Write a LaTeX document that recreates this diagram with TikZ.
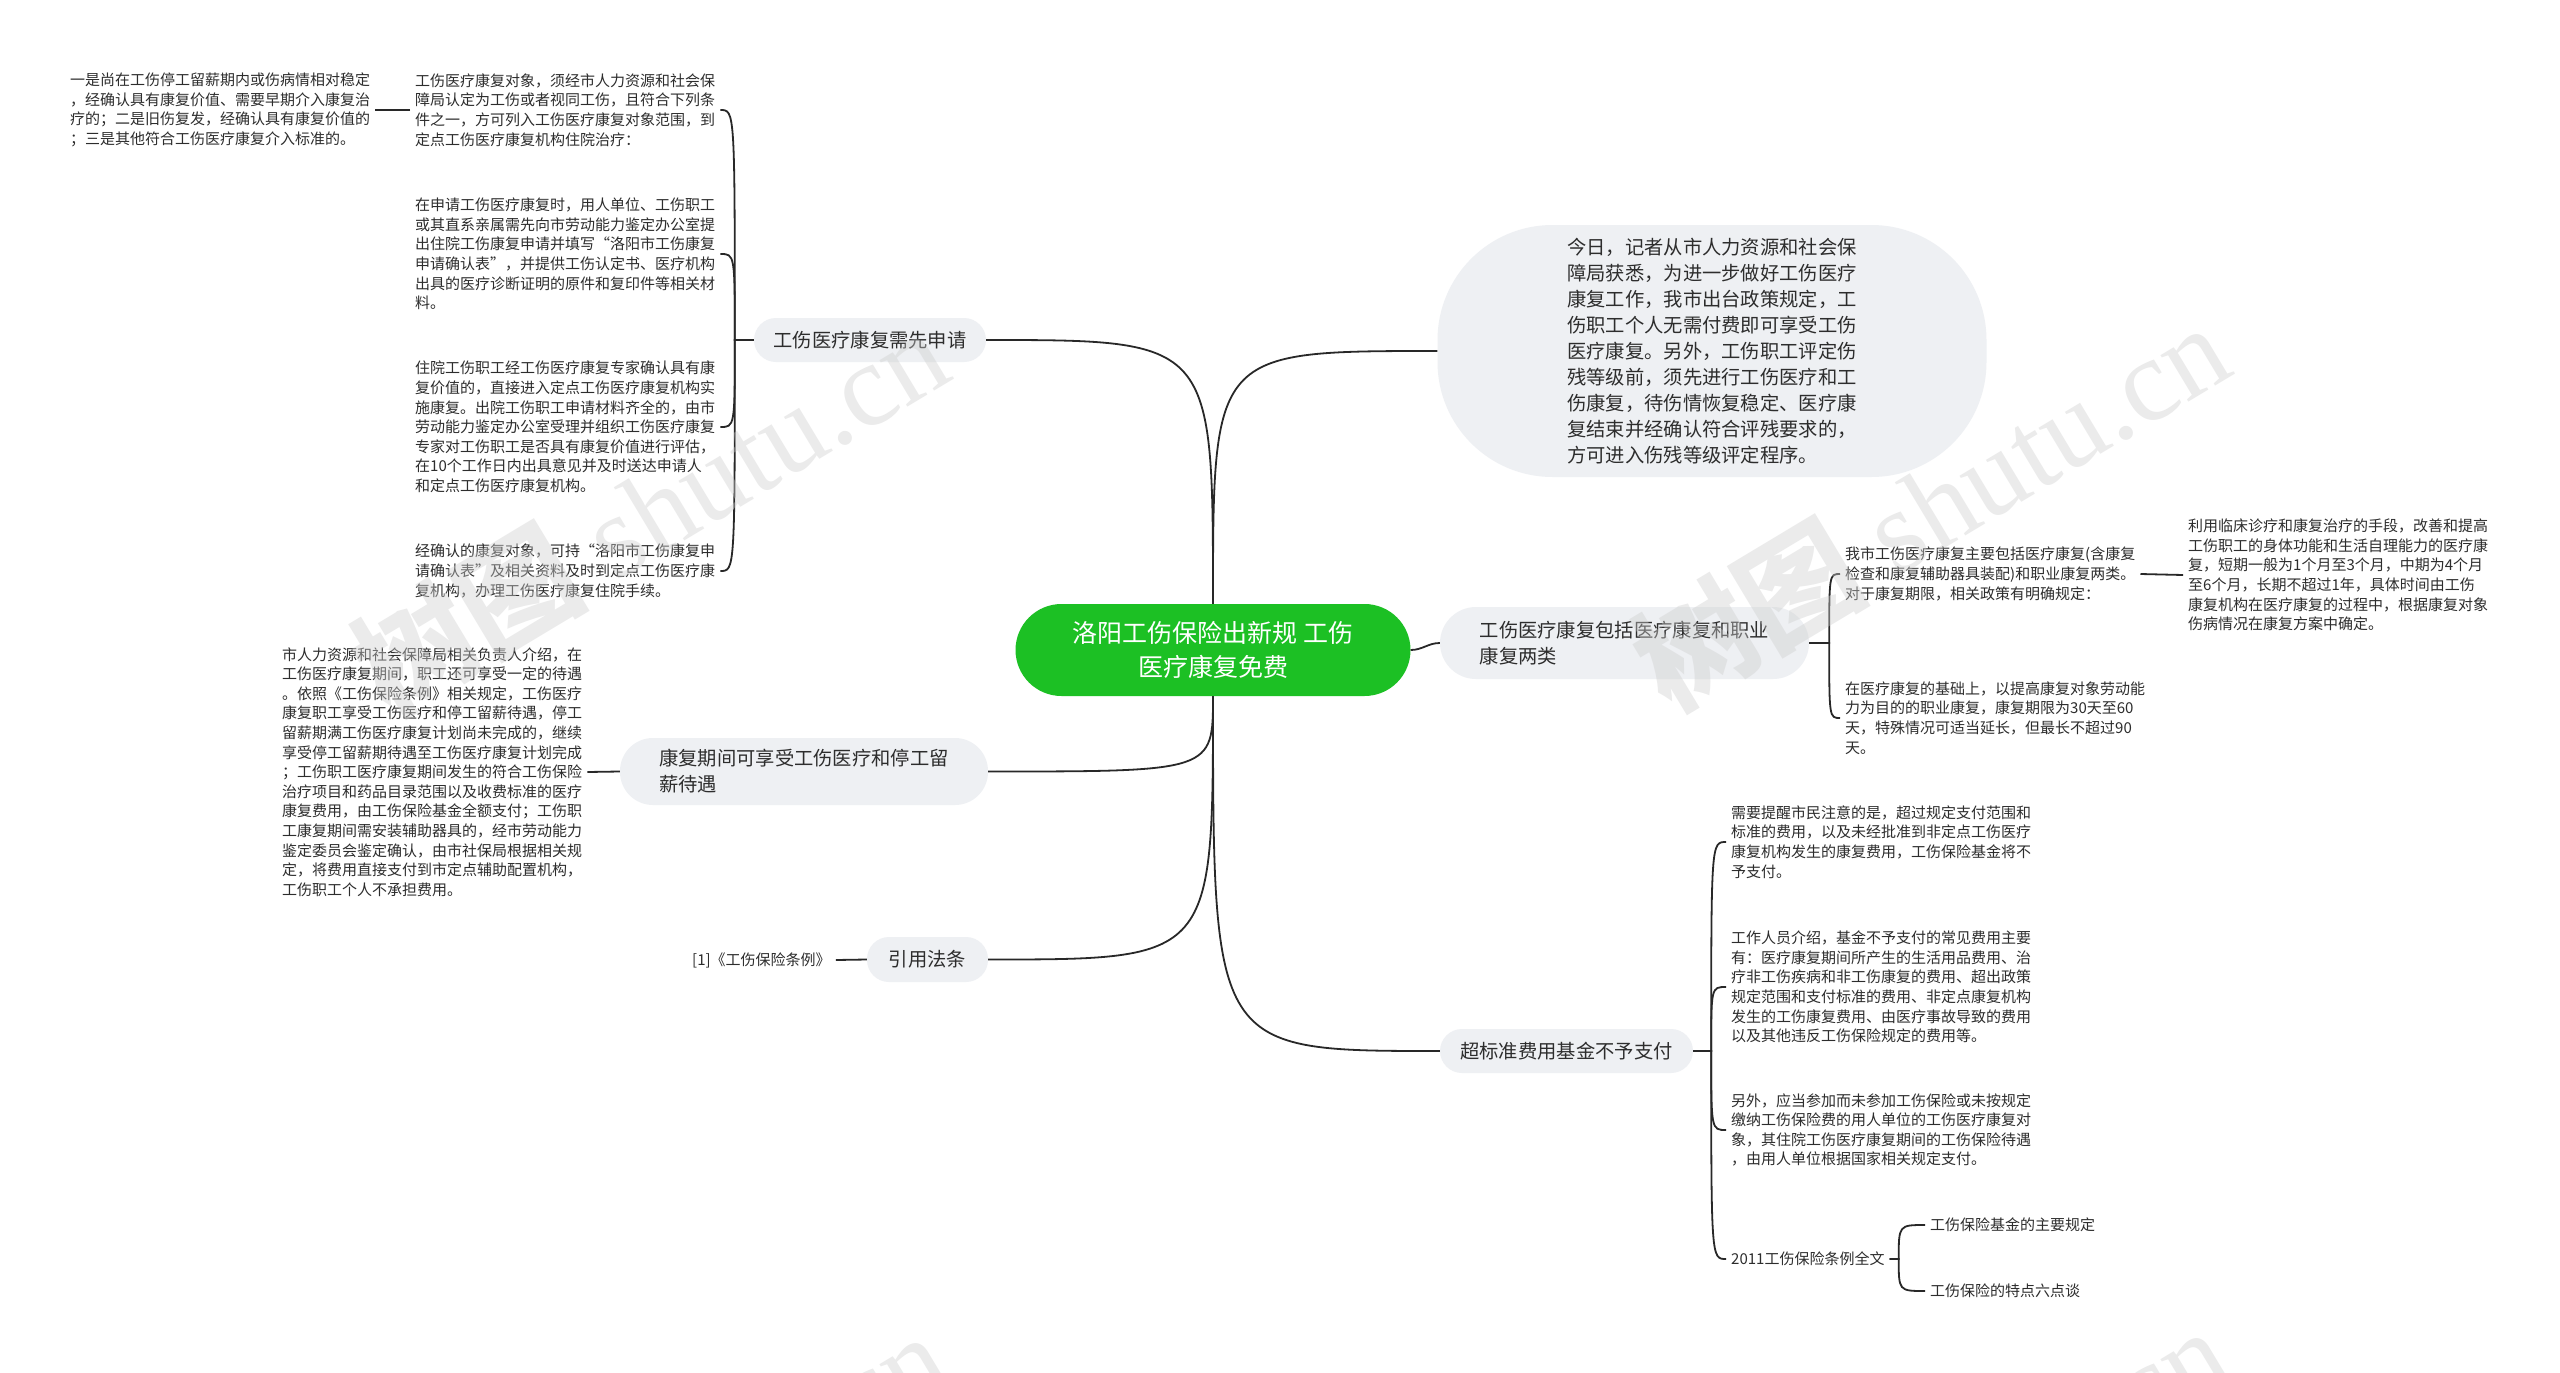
\documentclass[tikz,border=0pt]{standalone}
\usepackage{fontspec}
\setmainfont{Noto Sans CJK SC}
\newfontfamily\wmserif{Liberation Serif}
\usetikzlibrary{calc}
\definecolor{rootgreen}{RGB}{28,192,36}
\definecolor{boxgray}{RGB}{238,240,243}
\definecolor{ink}{RGB}{45,45,45}
\definecolor{linec}{RGB}{40,40,40}
\definecolor{wmc}{RGB}{205,205,205}
\tikzset{
  rootnode/.style={fill=rootgreen, text=white, rounded corners=46pt, minimum width=395pt, minimum height=92pt, align=center, font=\fontsize{25}{34}\selectfont, inner sep=0pt},
  mainbox/.style={fill=boxgray, text=ink, align=left, font=\fontsize{19.3}{26}\selectfont, inner sep=0pt},
  leaf/.style={text=ink, align=left, font=\fontsize{15}{19.6}\selectfont, inner sep=5pt, anchor=west},
  conn/.style={draw=linec, line width=1.8pt},
  wm/.style={text=wmc, opacity=0.4, rotate=31, font=\fontsize{118}{118}\selectfont, inner sep=0pt}
}
\begin{document}
\begin{tikzpicture}[x=1pt,y=-1pt]
\useasboundingbox (0,0) rectangle (2560,1373);
\fill[white] (0,0) rectangle (2560,1373);

% root
\node[rootnode] (root) at (1213,650) {洛阳工伤保险出新规 工伤\\医疗康复免费};

% main branches
\node[mainbox, minimum width=232pt, minimum height=44pt, rounded corners=22pt] (b1) at (870,340) {工伤医疗康复需先申请};
\node[mainbox, minimum width=549pt, minimum height=252pt, rounded corners=115pt] (bub) at (1712,351) {今日，记者从市人力资源和社会保\\障局获悉，为进一步做好工伤医疗\\康复工作，我市出台政策规定，工\\伤职工个人无需付费即可享受工伤\\医疗康复。另外，工伤职工评定伤\\残等级前，须先进行工伤医疗和工\\伤康复，待伤情恢复稳定、医疗康\\复结束并经确认符合评残要求的，\\方可进入伤残等级评定程序。};
\node[mainbox, minimum width=369pt, minimum height=72pt, rounded corners=36pt] (b5) at (1624.5,643) {工伤医疗康复包括医疗康复和职业\\康复两类};
\node[mainbox, minimum width=368pt, minimum height=67pt, rounded corners=33pt] (b2) at (804,771.5) {康复期间可享受工伤医疗和停工留\\薪待遇};
\node[mainbox, minimum width=121pt, minimum height=45pt, rounded corners=22pt] (b3) at (927.5,959.5) {引用法条};
\node[mainbox, minimum width=253pt, minimum height=44pt, rounded corners=22pt] (b6) at (1566.5,1051) {超标准费用基金不予支付};

% leaves of b1
\node[leaf] (la) at (410,110) {工伤医疗康复对象，须经市人力资源和社会保\\障局认定为工伤或者视同工伤，且符合下列条\\件之一，方可列入工伤医疗康复对象范围，到\\定点工伤医疗康复机构住院治疗：};
\node[leaf] (la0) at (65,110) {一是尚在工伤停工留薪期内或伤病情相对稳定\\，经确认具有康复价值、需要早期介入康复治\\疗的；二是旧伤复发，经确认具有康复价值的\\；三是其他符合工伤医疗康复介入标准的。};
\node[leaf] (lb) at (410,254) {在申请工伤医疗康复时，用人单位、工伤职工\\或其直系亲属需先向市劳动能力鉴定办公室提\\出住院工伤康复申请并填写“洛阳市工伤康复\\申请确认表”，并提供工伤认定书、医疗机构\\出具的医疗诊断证明的原件和复印件等相关材\\料。};
\node[leaf] (lc) at (410,427) {住院工伤职工经工伤医疗康复专家确认具有康\\复价值的，直接进入定点工伤医疗康复机构实\\施康复。出院工伤职工申请材料齐全的，由市\\劳动能力鉴定办公室受理并组织工伤医疗康复\\专家对工伤职工是否具有康复价值进行评估，\\在10个工作日内出具意见并及时送达申请人\\和定点工伤医疗康复机构。};
\node[leaf] (ld) at (410,571) {经确认的康复对象，可持“洛阳市工伤康复申\\请确认表”及相关资料及时到定点工伤医疗康\\复机构，办理工伤医疗康复住院手续。};

% leaf of b2
\node[leaf] (l2) at (277,772) {市人力资源和社会保障局相关负责人介绍，在\\工伤医疗康复期间，职工还可享受一定的待遇\\。依照《工伤保险条例》相关规定，工伤医疗\\康复职工享受工伤医疗和停工留薪待遇，停工\\留薪期满工伤医疗康复计划尚未完成的，继续\\享受停工留薪期待遇至工伤医疗康复计划完成\\；工伤职工医疗康复期间发生的符合工伤保险\\治疗项目和药品目录范围以及收费标准的医疗\\康复费用，由工伤保险基金全额支付；工伤职\\工康复期间需安装辅助器具的，经市劳动能力\\鉴定委员会鉴定确认，由市社保局根据相关规\\定，将费用直接支付到市定点辅助配置机构，\\工伤职工个人不承担费用。};

% leaf of b3
\node[leaf] (l3) at (687,960) {[1]《工伤保险条例》};

% leaves of b5
\node[leaf] (r1) at (1840,574) {我市工伤医疗康复主要包括医疗康复(含康复\\检查和康复辅助器具装配)和职业康复两类。\\对于康复期限，相关政策有明确规定：};
\node[leaf] (r1c) at (2183,575) {利用临床诊疗和康复治疗的手段，改善和提高\\工伤职工的身体功能和生活自理能力的医疗康\\复，短期一般为1个月至3个月，中期为4个月\\至6个月，长期不超过1年，具体时间由工伤\\康复机构在医疗康复的过程中，根据康复对象\\伤病情况在康复方案中确定。};
\node[leaf] (r2) at (1840,718) {在医疗康复的基础上，以提高康复对象劳动能\\力为目的的职业康复，康复期限为30天至60\\天，特殊情况可适当延长，但最长不超过90\\天。};

% leaves of b6
\node[leaf] (s1) at (1726,842) {需要提醒市民注意的是，超过规定支付范围和\\标准的费用，以及未经批准到非定点工伤医疗\\康复机构发生的康复费用，工伤保险基金将不\\予支付。};
\node[leaf] (s2) at (1726,987) {工作人员介绍，基金不予支付的常见费用主要\\有：医疗康复期间所产生的生活用品费用、治\\疗非工伤疾病和非工伤康复的费用、超出政策\\规定范围和支付标准的费用、非定点康复机构\\发生的工伤康复费用、由医疗事故导致的费用\\以及其他违反工伤保险规定的费用等。};
\node[leaf] (s3) at (1726,1130) {另外，应当参加而未参加工伤保险或未按规定\\缴纳工伤保险费的用人单位的工伤医疗康复对\\象，其住院工伤医疗康复期间的工伤保险待遇\\，由用人单位根据国家相关规定支付。};
\node[leaf] (s4) at (1726,1259) {2011工伤保险条例全文};
\node[leaf] (t1) at (1925,1225) {工伤保险基金的主要规定};
\node[leaf] (t2) at (1925,1291) {工伤保险的特点六点谈};

% spine coordinates
\coordinate (sp1) at ($(b1.west)+(-19,0)$);
\coordinate (sp5) at ($(b5.east)+(20,0)$);
\coordinate (sp6) at ($(b6.east)+(18,0)$);
\coordinate (sp4) at ($(s4.east)+(9,0)$);

% root connectors
\draw[conn] (root.north) .. controls (root.north |- b1.east) .. (b1.east);
\draw[conn] (root.north) .. controls (root.north |- bub.west) .. (bub.west);
\draw[conn] (root.east) to[out=0,in=180] (b5.west);
\draw[conn] (root.south) .. controls (root.south |- b2.east) .. (b2.east);
\draw[conn] (root.south) .. controls (root.south |- b3.east) .. (b3.east);
\draw[conn] (root.south) .. controls (root.south |- b6.west) .. (b6.west);

% b1 bracket
\foreach \lf in {la,lb,lc,ld}{
  \draw[conn] (b1.west) -- (sp1) .. controls (sp1 |- \lf.east) .. (\lf.east);
}
\draw[conn] (la.west) -- (la0.east);
% b2, b3
\draw[conn] (b2.west) -- (l2.east);
\draw[conn] (b3.west) -- (l3.east);
% b5 bracket
\foreach \lf in {r1,r2}{
  \draw[conn] (b5.east) -- (sp5) .. controls (sp5 |- \lf.west) .. (\lf.west);
}
\draw[conn] (r1.east) -- (r1c.west);
% b6 bracket
\foreach \lf in {s1,s2,s3,s4}{
  \draw[conn] (b6.east) -- (sp6) .. controls (sp6 |- \lf.west) .. (\lf.west);
}
% s4 bracket
\foreach \lf in {t1,t2}{
  \draw[conn] (s4.east) -- (sp4) .. controls (sp4 |- \lf.west) .. (\lf.west);
}

% watermarks
\begin{scope}
\clip (0,0) rectangle (2560,1373);
\node[wm] (wm1) at (649,510) {{\bfseries 树图}\hspace{0.25em}{\wmserif shutu.cn}};
\node[wm] (wm2) at (1930,505) {{\bfseries 树图}\hspace{0.25em}{\wmserif shutu.cn}};
\node[wm] (wm3) at (649,1514) {{\bfseries 树图}\hspace{0.25em}{\wmserif shutu.cn}};
\node[wm] (wm4) at (1930,1509) {{\bfseries 树图}\hspace{0.25em}{\wmserif shutu.cn}};
\end{scope}
\end{tikzpicture}
\end{document}
